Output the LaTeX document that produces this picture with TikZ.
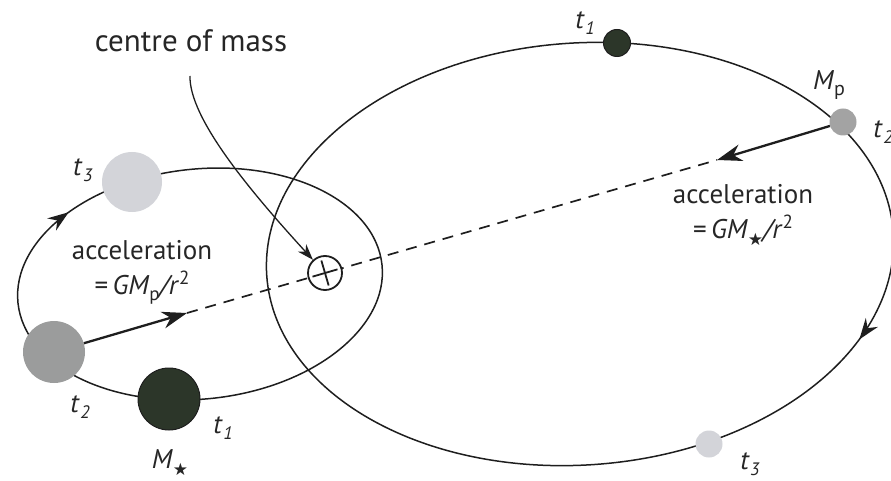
\documentclass[tikz,border=0pt]{standalone}
\usepackage{fontspec}
\setmainfont{PT Sans}
\newfontfamily\starfont{DejaVu Sans}
\usetikzlibrary{arrows.meta,decorations.markings}
\definecolor{lightp}{HTML}{D3D4D9}
\definecolor{midp}{HTML}{9B9C9C}
\definecolor{darkp}{HTML}{2C3629}
\definecolor{mpgray}{HTML}{A3A3A3}
\definecolor{inkc}{HTML}{1E1E1E}
\definecolor{txtc}{HTML}{262626}
\newcommand{\tlab}[2]{\textit{#1}\kern0.5pt\raisebox{-6pt}{\fontsize{18}{18}\selectfont\textit{#2}}}
\newcommand{\mstar}{\textit{M}\raisebox{-7pt}{\fontsize{17}{17}\selectfont\starfont ★}}
\newcommand{\mpl}{\textit{M}\raisebox{-6pt}{\fontsize{20}{20}\selectfont p}}
\begin{document}
\begin{tikzpicture}[x=1pt,y=-1pt,
  orbit/.style={line width=1.5pt, draw=inkc},
  planet/.style={circle, inner sep=0pt, draw=none},
  lbl/.style={font=\fontsize{27}{35}\selectfont, text=txtc, inner sep=0pt, align=center},
  acc/.style={line width=2.3pt, draw=inkc, -{Stealth[length=25pt,width=17pt,inset=8pt]}},
  dashline/.style={line width=1.7pt, draw=inkc, dash pattern=on 11pt off 8pt},
  thinarrow/.style={line width=1.3pt, draw=inkc, -{Stealth[length=16pt,width=11pt,inset=5pt]}},
  crossline/.style={line width=1.8pt, draw=inkc}
]
\useasboundingbox (0,0) rectangle (891,481);

% orbits
\draw[orbit, rotate around={6:(200,284)},
  postaction={decorate, decoration={markings,
    mark=at position 0.385 with {\arrowreversed[inkc]{Stealth[length=21pt,width=15pt,inset=7pt]}}}}]
  (200,284) ellipse [x radius=183pt, y radius=115pt];
\draw[orbit, rotate around={4:(580,254)},
  postaction={decorate, decoration={markings,
    mark=at position 0.931 with {\arrowreversed[inkc]{Stealth[length=21pt,width=15pt,inset=7pt]}}}}]
  (580,254) ellipse [x radius=314pt, y radius=211pt];

% planets and star positions
\node[planet, fill=lightp, minimum size=60pt] (st3) at (132,182) {};
\node[planet, fill=midp, minimum size=62pt] (st2) at (54,352) {};
\node[planet, fill=darkp, draw=inkc, line width=1pt, minimum size=62pt] (st1) at (169,399) {};
\node[planet, fill=darkp, draw=inkc, line width=1pt, minimum size=27pt] (pt1) at (617,43) {};
\node[planet, fill=mpgray, minimum size=27pt] (mp) at (843,122) {};
\node[planet, fill=lightp, minimum size=27pt] (pt3) at (709,444) {};

% line of centres
\coordinate (a1) at (187,313);
\coordinate (a2) at (717,160);
\draw[dashline] (a1) -- (a2);
\draw[acc] (st2) -- (a1);
\draw[acc] (mp) -- (a2);

% centre of mass
\node[circle, draw=inkc, line width=1.8pt, fill=white, minimum size=34pt, inner sep=0pt] (com) at (325,273) {};
\draw[crossline] ([shift={(16.25:13pt)}]com.center) -- ([shift={(196.25:13pt)}]com.center);
\draw[crossline] ([shift={(106.25:13pt)}]com.center) -- ([shift={(286.25:13pt)}]com.center);

\node[lbl, font=\fontsize{31}{35}\selectfont] (cmlab) at (191,41) {centre of mass};
\coordinate (c0) at (190,76);
\draw[thinarrow] (c0) .. controls (189,118) and (250,191) .. (com);

% labels
\node[lbl] (lt3) at (83,170) {\tlab{t}{3}};
\node[lbl] (lt2) at (80,407) {\tlab{t}{2}};
\node[lbl] (lt1) at (223,428) {\tlab{t}{1}};
\node[lbl] (lms) at (170,463) {\mstar};
\node[lbl] (acl) at (142,272) {acceleration\\=\,\textit{GM}\raisebox{-6pt}{\fontsize{19}{19}\selectfont p}\textit{/r}\raisebox{10pt}{\fontsize{19}{19}\selectfont 2}};
\node[lbl] (acr) at (743,215) {acceleration\\=\,\textit{GM}\raisebox{-7pt}{\fontsize{17}{17}\selectfont\starfont ★}\textit{/r}\raisebox{10pt}{\fontsize{19}{19}\selectfont 2}};
\node[lbl] (rt1) at (585,23) {\tlab{t}{1}};
\node[lbl] (rmp) at (829,85) {\mpl};
\node[lbl] (rt2) at (883,132) {\tlab{t}{2}};
\node[lbl] (rt3) at (750,464) {\tlab{t}{3}};
\end{tikzpicture}
\end{document}
